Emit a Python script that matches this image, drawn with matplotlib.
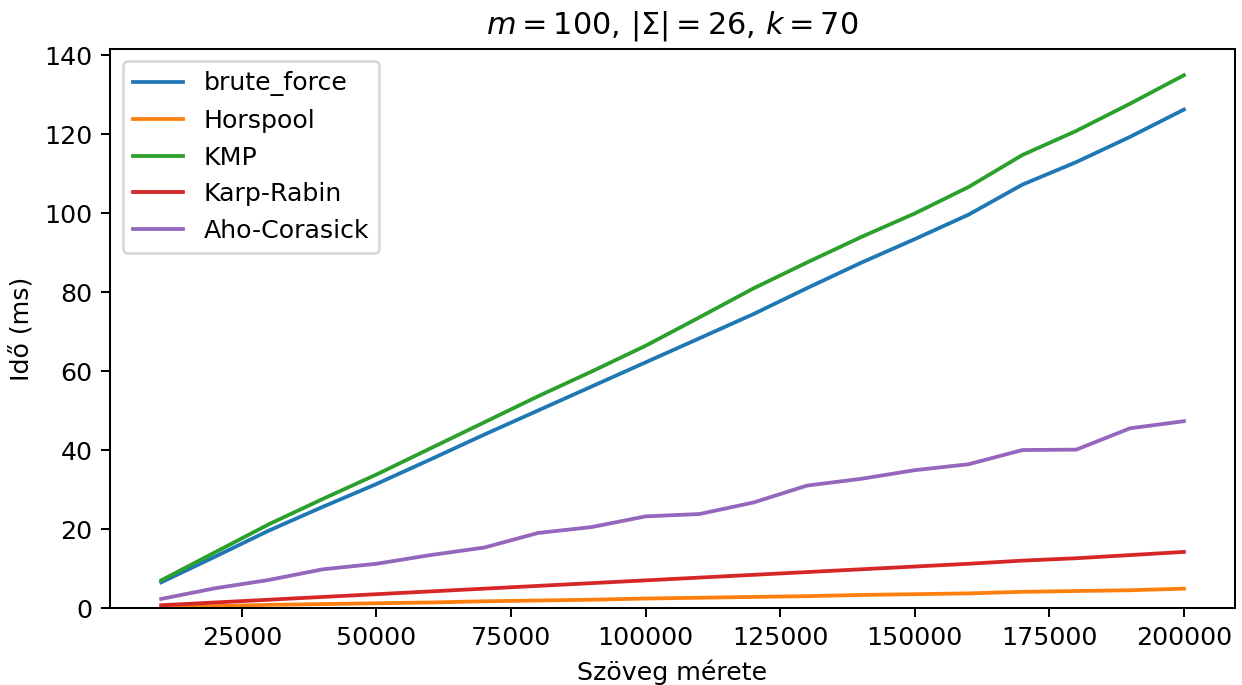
import numpy as np
import matplotlib
matplotlib.use("Agg")
import matplotlib.pyplot as plt

# szöveg mérete (x tengely)
sizes = [10000, 20000, 30000, 40000, 50000, 60000, 70000, 80000, 90000, 100000,
         110000, 120000, 130000, 140000, 150000, 160000, 170000, 180000, 190000, 200000]

brute_force = [6.5, 13.0, 19.6, 25.6, 31.4, 37.6, 43.9, 50.0, 56.1, 62.2,
               68.3, 74.4, 81.0, 87.4, 93.4, 99.6, 107.2, 112.9, 119.3, 126.2]
horspool = [0.3, 0.5, 0.8, 1.0, 1.2, 1.4, 1.7, 1.9, 2.1, 2.4,
            2.6, 2.8, 3.0, 3.3, 3.5, 3.7, 4.1, 4.3, 4.5, 4.9]
kmp = [7.0, 14.1, 21.2, 27.6, 33.8, 40.4, 47.0, 53.6, 59.9, 66.4,
       73.6, 80.9, 87.5, 93.9, 99.9, 106.6, 114.7, 120.8, 127.7, 134.9]
karp_rabin = [0.7, 1.4, 2.1, 2.8, 3.5, 4.2, 4.9, 5.6, 6.3, 7.0,
              7.7, 8.4, 9.1, 9.8, 10.5, 11.2, 12.0, 12.6, 13.4, 14.2]
aho_corasick = [2.3, 5.0, 7.1, 9.8, 11.2, 13.4, 15.3, 19.0, 20.5, 23.2,
                23.8, 26.7, 31.0, 32.7, 34.9, 36.4, 40.0, 40.1, 45.5, 47.3]

names = ["brute_force", "Horspool", "KMP", "Karp-Rabin", "Aho-Corasick"]
series = [brute_force, horspool, kmp, karp_rabin, aho_corasick]

DPI = 182


def PlotTimes(x, L1, labels):
    fig = plt.figure(figsize=(1242 / DPI, 685 / DPI), dpi=DPI)
    for i in range(len(L1)):
        plt.plot(x, L1[i], label=labels[i])
    axes = plt.gca()
    axes.set_ylim(bottom=0)
    axes.set_xlabel("Szöveg mérete")
    axes.set_ylabel("Idő (ms)")
    axes.set_title(r"$m = 100$, $|\Sigma| = 26$, $k = 70$")
    plt.legend(loc="upper left")
    fig.subplots_adjust(left=0.0886, right=0.9944, bottom=0.1124, top=0.929)
    fig.savefig("out.png", dpi=DPI)


PlotTimes(sizes, series, names)
